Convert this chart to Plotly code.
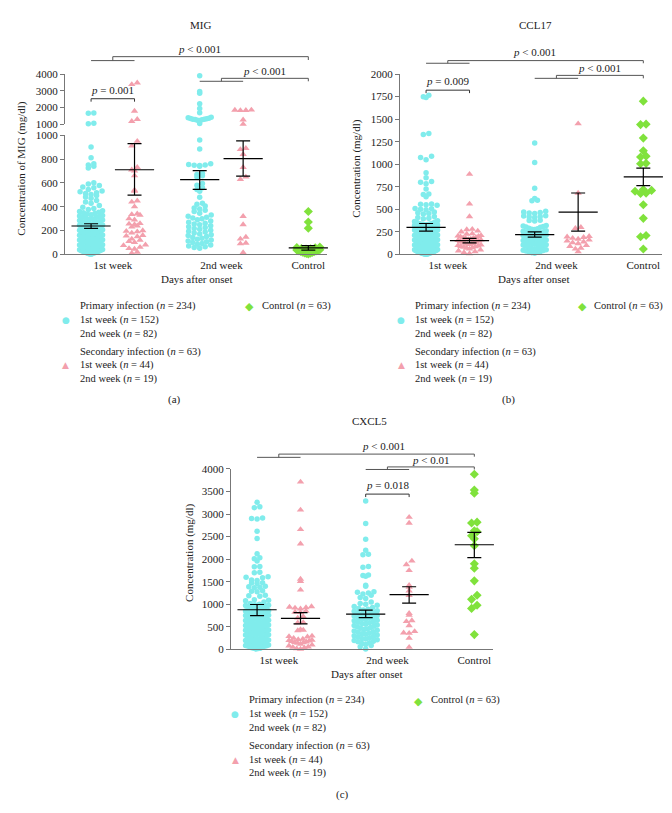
import plotly.graph_objects as go

W, H = 672, 813
FONT = "Liberation Serif"
SYMBOL_FONT = "DejaVu Sans"
CYAN = "#80ECEC"
PINK = "#F3A0AD"
GREEN = "#80E23C"
AXIS_GREY = "#777777"
BRACKET_GREY = "#555555"
TEXT_SIZE = 11
LEGEND_SIZE = 10.5

# group order: primary 1st week, secondary 1st week, primary 2nd week, secondary 2nd week, control
GROUP_POS = [0, 1, 2.5, 3.5, 5]
CAT_POS = [0.5, 3.0, 5]
CATEGORIES = ["1st week", "2nd week", "Control"]
X_RANGE = [-0.6, 5.43]

# ---------------- MIG (mg/dl) ----------------
MIG_PRI_W1 = [1680, 1660, 1060, 1040, 900, 810, 760, 750, 740, 725,
              600, 590, 578, 566, 560, 545, 532, 525, 518, 510, 502, 494, 482, 470,
              452, 440, 428, 410, 396, 386, 376, 366, 360, 354, 349, 344, 338, 333, 327, 322, 318, 313, 309, 304,
              297, 293, 288, 284, 279, 276, 271, 266, 263, 259, 254, 251, 247, 244, 241, 237, 234, 231, 229, 226,
              223, 221, 218, 214, 211, 209, 206, 203, 199, 197, 194, 191, 189, 186, 183, 181, 178, 176, 173, 171,
              168, 166, 163, 161, 158, 156, 153, 151, 148, 146, 143, 141, 138, 136, 133, 131, 128, 126, 123, 121,
              118, 116, 113, 111, 108, 106, 103, 101, 98, 96, 93, 91, 88, 86, 83, 81, 78, 76, 73, 71,
              68, 66, 63, 61, 58, 56, 53, 51, 48, 46, 43, 41, 38, 36, 33, 31, 28, 26, 23, 21,
              18, 16, 13, 11, 8, 6, 4, 2]
MIG_SEC_W1 = [3480, 3380, 1790, 1300, 1180, 950, 910, 730, 710, 700, 660, 540, 530, 450, 440,
              400, 340, 335, 330, 300, 290, 260, 255, 250, 240, 230, 200, 195, 190, 180,
              160, 155, 150, 130, 120, 110, 100, 80, 75, 60, 50, 45, 20, 10]
MIG_PRI_W2 = [3900, 2960, 2850, 2230, 1940, 1690, 1420, 1390, 1370, 1350, 1330, 1310, 1300, 1290,
              1270, 1250, 1230, 1050,
              960, 885, 760, 755, 750, 748, 745, 740, 680, 670, 660, 650, 595, 580, 560, 545, 530, 480,
              430, 420, 405, 390, 380, 370, 360, 345, 330, 320, 312, 305, 298, 290, 280, 270, 262, 255,
              248, 240, 232, 225, 218, 210, 202, 195, 188, 180, 172, 165, 158, 150, 142, 135, 128, 120,
              113, 106, 99, 92, 85, 78, 71, 64, 58, 52]
MIG_SEC_W2 = [1860, 1850, 1840, 1830, 1270, 1010, 890, 880, 840, 730, 650, 630, 320, 250, 145,
              130, 95, 90, 15]
MIG_CTRL = [360, 272, 220, 62, 58, 55, 50, 47, 44, 40, 37, 34, 31, 28, 25, 22, 19, 16, 13, 10, 7, 4]
MIG_MEAN = [238, 710, 628, 803, 55]
MIG_LO = [219, 497, 546, 656, 35]
MIG_HI = [257, 929, 702, 953, 74]

# ---------------- CCL17 (mg/dl) ----------------
CCL17_PRI_W1 = [1765, 1750, 1740, 1340, 1330, 1090, 1075, 1050, 905, 850, 810, 800, 785, 725, 670, 665, 640,
                560, 555, 550, 545, 510, 505, 500, 495, 470, 462, 455, 448, 420, 410, 400, 395, 372, 366, 360, 354,
                345, 341, 338, 334, 331, 327, 324, 320, 317, 313, 310, 306, 303, 299, 296, 292, 289, 285, 282, 278,
                275, 271, 268, 264, 261, 257, 254, 250, 247, 243, 240, 236, 233, 229, 226, 222, 219, 215, 212, 208,
                205, 201, 198, 194, 191, 187, 184, 180, 177, 173, 170, 166, 163, 159, 156, 152, 149, 145, 142, 138,
                135, 131, 128, 124, 121, 117, 114, 110, 107, 103, 100, 96, 93, 89, 86, 82, 79, 75, 72, 68,
                65, 61, 58, 54, 51, 47, 44, 40, 37, 33, 30, 26, 23, 19, 16, 12, 9, 5, 3, 1,
                330, 300, 270, 240, 210, 180, 150, 120, 90, 60, 35, 25, 15, 8, 4]
CCL17_SEC_W1 = [890, 560, 420, 280, 275, 260, 250, 230, 225, 210, 205, 200, 195, 190, 185, 180, 175, 170,
                165, 160, 155, 150, 145, 140, 135, 130, 125, 120, 115, 110, 105, 100, 95, 90, 85, 80,
                75, 70, 60, 50, 40, 30, 20, 10]
CCL17_PRI_W2 = [1235, 1020, 735, 620, 600, 595, 480, 470, 465, 460, 455, 430, 425, 420, 415, 410, 380, 375,
                370, 320, 315, 310, 305, 300, 290, 285, 280, 275,
                262, 257, 252, 248, 243, 238, 234, 229, 224, 220, 215, 210, 206, 201, 196, 192, 187, 182, 178, 173,
                168, 164, 159, 154, 150, 145, 140, 136, 131, 126, 122, 117, 112, 108, 103, 98, 94, 89, 84, 80,
                75, 70, 66, 61, 56, 52, 47, 42, 38, 33, 28, 24, 19, 14]
CCL17_SEC_W2 = [1450, 680, 300, 290, 200, 195, 190, 180, 170, 160, 150, 140, 130, 120, 100, 90, 70, 60, 30]
CCL17_CTRL = [1700, 1445, 1440, 1290, 1150, 1090, 1080, 1010, 1005, 720, 710, 700, 680, 675, 550, 400,
              210, 195, 60]
CCL17_MEAN = [300, 153, 220, 470, 860]
CCL17_LO = [258, 128, 192, 259, 762]
CCL17_HI = [343, 178, 250, 681, 958]

# ---------------- CXCL5 (mg/dl) ----------------
CXCL5_PRI_W1 = [3260, 3160, 3140, 2910, 2900, 2890, 2620, 2460, 2120, 2030, 2010, 1960, 1840, 1830, 1710,
                1700, 1610, 1600, 1590, 1540, 1530, 1480, 1470, 1460, 1400, 1390, 1380, 1370, 1300, 1290,
                1280, 1200, 1190, 1180, 1100, 1090, 1080, 1050, 1020,
                1000, 990, 975, 960, 950, 940, 925, 910, 900, 890, 875, 860, 850, 840, 825, 810, 800, 790, 775, 760,
                750, 740, 725, 710, 700, 690, 675, 660, 650, 640, 625, 610, 600, 590, 575, 560, 550, 540, 525, 510,
                500, 490, 475, 460, 450, 440, 425, 410, 400, 390, 375, 360, 350, 340, 325, 310, 300, 290, 275, 260,
                250, 240, 225, 210, 200, 190, 175, 160, 150, 140, 125, 110, 100, 90, 75, 60, 50, 40, 25, 10,
                980, 930, 880, 830, 780, 730, 680, 630, 580, 530, 480, 430, 380, 330, 280, 230, 180, 130, 80, 30,
                620, 570, 520, 470, 420, 370, 320, 270, 220, 170, 120, 70, 20]
CXCL5_SEC_W1 = [3710, 3090, 2660, 2340, 1560, 1510, 1320, 950, 940, 930, 920, 900, 850, 830, 820, 730, 700,
                600, 590, 440, 430, 420, 300, 290, 280, 250, 230, 220, 210, 200, 190, 180, 170, 160, 150,
                140, 120, 100, 80, 60, 50, 40, 20, 10]
CXCL5_PRI_W2 = [3290, 2790, 2440, 2200, 2110, 2100, 1840, 1820, 1650, 1640, 1620, 1420, 1400, 1280, 1270,
                1250, 1230, 1200, 1150, 1130, 1050, 1020, 1000, 980, 950, 930, 910,
                890, 875, 860, 845, 830, 815, 800, 785, 770, 755, 740, 725, 710, 695, 680, 665, 650, 635, 620, 605,
                590, 575, 560, 545, 530, 515, 500, 485, 470, 455, 440, 425, 410, 395, 380, 365, 350, 335, 320, 305,
                290, 275, 260, 245, 230, 215, 200, 185, 170, 150, 130, 110, 90, 60, 10]
CXCL5_SEC_W2 = [2930, 2800, 1960, 1880, 1750, 1420, 1380, 1300, 1200, 800, 760, 640, 620, 530, 400, 370,
                360, 250, 50]
CXCL5_CTRL = [3880, 3530, 3460, 2820, 2800, 2630, 2610, 2520, 2450, 2300, 1900, 1800, 1520, 1200, 1110,
              980, 910, 330]
CXCL5_MEAN = [880, 691, 785, 1215, 2320]
CXCL5_LO = [749, 567, 705, 1025, 2036]
CXCL5_HI = [996, 815, 873, 1389, 2596]

# ---------------- pixel geometry of the three panels ----------------
PX_A = dict(x0=57, x1=319, bot=244, mid_lo=123, mid_hi=112, top=61)
PX_B = dict(x0=392, x1=654, bot=244, top=61)
PX_C = dict(x0=223, x1=485, bot=645, top=461.7)


def pxx(px):
    return px / W


def pxy(py):
    return 1 - py / H


def xscale(p):
    return (p["x1"] - p["x0"]) / (X_RANGE[1] - X_RANGE[0])


def swarm(values, to_px, bin_px=5.0, step_px=5.5, max_span_px=23.0):
    """Prism-like scatter: bin values into rows, spread each row centre-out."""
    order = sorted(range(len(values)), key=lambda i: values[i])
    rows = {}
    for i in order:
        rows.setdefault(int(to_px(values[i]) // bin_px), []).append(i)
    offsets = [0.0] * len(values)
    for members in rows.values():
        n = len(members)
        if n == 1:
            continue
        step = min(step_px, max_span_px / (n - 1))
        slots = sorted([(k - (n - 1) / 2) * step for k in range(n)], key=abs)
        for i, s in zip(members, slots):
            offsets[i] = s
    return offsets


STYLES = [
    dict(color=CYAN, symbol="circle", size=5.5),
    dict(color=PINK, symbol="triangle-up", size=6.5),
    dict(color=CYAN, symbol="circle", size=5.5),
    dict(color=PINK, symbol="triangle-up", size=6.5),
    dict(color=GREEN, symbol="diamond", size=7),
]

fig = go.Figure()


def add_groups(groups, panel, xaxis, yaxis, to_px, yaxis_high=None, split=None):
    xs = xscale(panel)
    for vals, pos, st in zip(groups, GROUP_POS, STYLES):
        offs = swarm(vals, to_px)
        xv = [pos + o / xs for o in offs]
        parts = [(yaxis, [(x, v) for x, v in zip(xv, vals) if split is None or v <= split])]
        if yaxis_high is not None:
            parts.append((yaxis_high, [(x, v) for x, v in zip(xv, vals) if v > split]))
        for ya, pts in parts:
            if not pts:
                continue
            fig.add_trace(go.Scatter(
                x=[p[0] for p in pts], y=[p[1] for p in pts], mode="markers",
                xaxis=xaxis, yaxis=ya, cliponaxis=False, hoverinfo="skip",
                marker=dict(color=st["color"], symbol=st["symbol"], size=st["size"], line=dict(width=0)),
            ))


def add_stats(mean, lo, hi, xaxis, yaxis):
    fig.add_trace(go.Scatter(
        x=GROUP_POS, y=mean, mode="markers", xaxis=xaxis, yaxis=yaxis, cliponaxis=False,
        marker=dict(symbol="line-ew", size=28, line=dict(color="black", width=1.2)),
        error_y=dict(type="data", symmetric=False,
                     array=[h - m for h, m in zip(hi, mean)],
                     arrayminus=[m - l for m, l in zip(mean, lo)],
                     color="black", thickness=1.2, width=7),
        hoverinfo="skip",
    ))


def to_px_a(v):
    if v <= 1000:
        return v * (PX_A["bot"] - PX_A["mid_lo"]) / 1000
    return (PX_A["bot"] - PX_A["mid_hi"]) + (v - 1000) * (PX_A["mid_hi"] - PX_A["top"]) / 3000


add_groups([MIG_PRI_W1, MIG_SEC_W1, MIG_PRI_W2, MIG_SEC_W2, MIG_CTRL], PX_A, "x", "y",
           to_px_a, yaxis_high="y4", split=1000)
add_stats(MIG_MEAN, MIG_LO, MIG_HI, "x", "y")

add_groups([CCL17_PRI_W1, CCL17_SEC_W1, CCL17_PRI_W2, CCL17_SEC_W2, CCL17_CTRL], PX_B, "x2", "y2",
           lambda v: v * (PX_B["bot"] - PX_B["top"]) / 2000)
add_stats(CCL17_MEAN, CCL17_LO, CCL17_HI, "x2", "y2")

add_groups([CXCL5_PRI_W1, CXCL5_SEC_W1, CXCL5_PRI_W2, CXCL5_SEC_W2, CXCL5_CTRL], PX_C, "x3", "y3",
           lambda v: v * (PX_C["bot"] - PX_C["top"]) / 4000)
add_stats(CXCL5_MEAN, CXCL5_LO, CXCL5_HI, "x3", "y3")

# ---------------- axes ----------------
tick_font = dict(family=FONT, size=TEXT_SIZE, color="#222")
common_y = dict(showline=True, linecolor=AXIS_GREY, linewidth=1, ticks="outside", ticklen=4,
                tickcolor=AXIS_GREY, showgrid=False, zeroline=False, tickfont=tick_font)
common_x = dict(showline=True, linecolor=AXIS_GREY, linewidth=1, ticks="", showgrid=False,
                zeroline=False, tickfont=tick_font, range=X_RANGE,
                tickvals=CAT_POS, ticktext=CATEGORIES)

fig.update_layout(
    xaxis=dict(domain=[pxx(PX_A["x0"]), pxx(PX_A["x1"])], anchor="y", **common_x),
    yaxis=dict(domain=[pxy(PX_A["bot"]), pxy(PX_A["mid_lo"])], anchor="x", range=[0, 1000],
               tickvals=[0, 200, 400, 600, 800, 1000], **common_y),
    yaxis4=dict(domain=[pxy(PX_A["mid_hi"]), pxy(PX_A["top"])], anchor="x", range=[1000, 4000],
                tickvals=[1000, 2000, 3000, 4000], **common_y),
    xaxis2=dict(domain=[pxx(PX_B["x0"]), pxx(PX_B["x1"])], anchor="y2", **common_x),
    yaxis2=dict(domain=[pxy(PX_B["bot"]), pxy(PX_B["top"])], anchor="x2", range=[0, 2000],
                dtick=250, **common_y),
    xaxis3=dict(domain=[pxx(PX_C["x0"]), pxx(PX_C["x1"])], anchor="y3", **common_x),
    yaxis3=dict(domain=[pxy(PX_C["bot"]), pxy(PX_C["top"])], anchor="x3", range=[0, 4000],
                dtick=500, **common_y),
)

# ---------------- significance brackets ----------------
shapes = []
annotations = []


def line(xref, xa, ya, xb, yb, color=BRACKET_GREY):
    shapes.append(dict(type="line", xref=xref, yref="paper", x0=xa, y0=pxy(ya), x1=xb, y1=pxy(yb),
                       line=dict(color=color, width=1)))


def text(x, y, s, xref="paper", size=TEXT_SIZE, xanchor="center", yanchor="middle", angle=0,
         family=FONT, color="#222"):
    annotations.append(dict(x=x, y=pxy(y), xref=xref, yref="paper", text=s, showarrow=False,
                            xanchor=xanchor, yanchor=yanchor, textangle=angle, borderpad=0,
                            font=dict(family=family, size=size, color=color)))


def pair_bracket(xref, a, b, y, label, label_x):
    line(xref, a, y, b, y, "#333")
    line(xref, a, y, a, y + 3, "#333")
    line(xref, b, y, b, y + 3, "#333")
    text(label_x, y - 9, label, xref=xref)


def group_bracket(xref, a, b, y_bar, y_top, y_end, label, label_x, label_y):
    mid = (a + b) / 2
    line(xref, a, y_bar, b, y_bar)
    line(xref, mid, y_bar, mid, y_top)
    line(xref, mid, y_top, GROUP_POS[4], y_top)
    line(xref, GROUP_POS[4], y_top, GROUP_POS[4], y_end)
    text(label_x, label_y, label, xref=xref)


P001 = "<i>p</i> < 0.001"
# panel a
pair_bracket("x", GROUP_POS[0], GROUP_POS[1], 86, "<i>p</i> = 0.001", 0.5)
group_bracket("x", GROUP_POS[0], GROUP_POS[1], 47.3, 43.3, 46.7, P001, 2.5, 35.5)
group_bracket("x", GROUP_POS[2], GROUP_POS[3], 68.3, 65.3, 68.3, P001, 4.0, 57.5)
# panel b
pair_bracket("x2", GROUP_POS[0], GROUP_POS[1], 77.3, "<i>p</i> = 0.009", 0.5)
group_bracket("x2", GROUP_POS[0], GROUP_POS[1], 50, 47.3, 50, P001, 2.5, 38.5)
group_bracket("x2", GROUP_POS[2], GROUP_POS[3], 65.3, 62.3, 65.3, P001, 4.0, 54.5)
# panel c
group_bracket("x3", GROUP_POS[0], GROUP_POS[1], 450, 446.7, 449.3, P001, 2.9, 438.5)
group_bracket("x3", GROUP_POS[2], GROUP_POS[3], 462.3, 459.7, 462.3, "<i>p</i> < 0.01", 4.0, 452.7)
pair_bracket("x3", GROUP_POS[2], GROUP_POS[3], 487.3, "<i>p</i> = 0.018", 3.0)

# ---------------- titles ----------------
text(pxx(192), 11, "MIG")
text(pxx(527.7), 11, "CCL17")
text(pxx(361.7), 412.7, "CXCL5")
text(pxx(188), 269.3, "Days after onset")
text(pxx(525), 269.3, "Days after onset")
text(pxx(358), 670, "Days after onset")
text(pxx(14), 157, "Concentration of MIG (mg/dl)", angle=-90)
text(pxx(349), 157, "Concentration (mg/dl)", angle=-90)
text(pxx(182), 547, "Concentration (mg/dl)", angle=-90)
text(pxx(166.7), 391.5, "(a)")
text(pxx(500), 391.5, "(b)")
text(pxx(334), 791.7, "(c)")

# ---------------- legends ----------------
PRIMARY_LINES = ["Primary infection (<i>n</i> = 234)", "1st week (<i>n</i> = 152)", "2nd week (<i>n</i> = 82)"]
SECONDARY_LINES = ["Secondary infection (<i>n</i> = 63)", "1st week (<i>n</i> = 44)", "2nd week (<i>n</i> = 19)"]
CONTROL_LINE = "Control (<i>n</i> = 63)"
LINE_DY = [0, 14, 27.6, 46, 60, 73.3]
# (symbol x, text x, first line y, diamond x, control text x)
LEGEND_AT = [(57.7, 71, 296.7, 241.7, 253),
             (393, 406, 296.7, 574, 585),
             (227.3, 240, 696.7, 410, 422)]

for sx, tx, y0, dx, cx in LEGEND_AT:
    for dy, s in zip(LINE_DY, PRIMARY_LINES + SECONDARY_LINES):
        text(pxx(tx), y0 + dy, s, size=LEGEND_SIZE, xanchor="left")
    text(pxx(sx), y0 + LINE_DY[1], "\u25CF", size=9, family=SYMBOL_FONT, color=CYAN)
    text(pxx(sx), y0 + LINE_DY[4], "\u25B2", size=9, family=SYMBOL_FONT, color=PINK)
    text(pxx(dx), y0 + 0.6, "\u25C6", size=11, family=SYMBOL_FONT, color=GREEN)
    text(pxx(cx), y0, CONTROL_LINE, size=LEGEND_SIZE, xanchor="left")

fig.update_layout(
    width=W, height=H, margin=dict(l=0, r=0, t=0, b=0),
    paper_bgcolor="white", plot_bgcolor="white", showlegend=False,
    shapes=shapes, annotations=annotations,
    font=dict(family=FONT, size=TEXT_SIZE, color="#222"),
)

fig.write_html("out.html")
